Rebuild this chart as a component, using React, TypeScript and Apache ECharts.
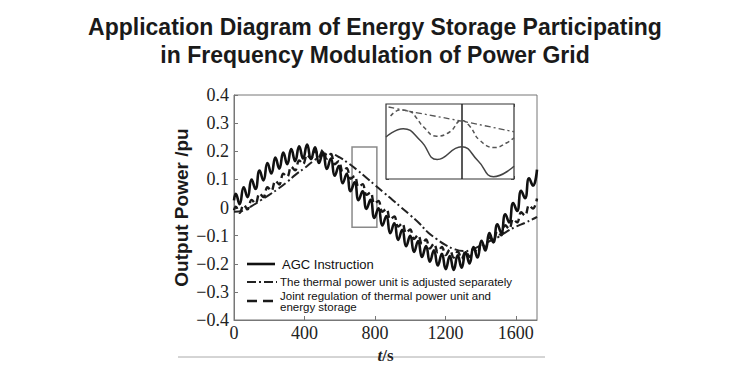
import React, { useEffect, useRef } from 'react';
import * as echarts from 'echarts';

// AGC instruction (solid): time (s) and output power (pu), peaks/troughs
const agcT = [0, 10, 32, 55, 77, 100, 122, 145, 167, 190, 212, 235, 257, 280, 302, 325, 347, 370, 392, 415, 437, 460, 482, 505, 527, 550, 572, 595, 617, 640, 662, 685, 707, 730, 752, 775, 797, 820, 842, 865, 887, 910, 932, 955, 977, 1000, 1022, 1045, 1067, 1090, 1112, 1135, 1157, 1180, 1202, 1225, 1247, 1270, 1292, 1315, 1337, 1360, 1382, 1405, 1427, 1450, 1472, 1495, 1517, 1540, 1562, 1585, 1607, 1630, 1652, 1675, 1697, 1720];
const agcV = [0.025, 0.049, 0.012, 0.072, 0.037, 0.099, 0.066, 0.131, 0.096, 0.158, 0.121, 0.178, 0.138, 0.195, 0.154, 0.208, 0.165, 0.218, 0.174, 0.224, 0.172, 0.214, 0.158, 0.196, 0.137, 0.174, 0.113, 0.147, 0.086, 0.12, 0.058, 0.09, 0.026, 0.058, -0.005, 0.027, -0.037, -0.003, -0.064, -0.03, -0.091, -0.056, -0.115, -0.079, -0.138, -0.101, -0.158, -0.119, -0.176, -0.137, -0.193, -0.152, -0.206, -0.165, -0.219, -0.173, -0.222, -0.17, -0.214, -0.159, -0.199, -0.141, -0.178, -0.118, -0.153, -0.091, -0.124, -0.06, -0.09, -0.024, -0.053, 0.016, -0.012, 0.059, 0.033, 0.104, 0.078, 0.135];

// Joint regulation of thermal power unit and energy storage (dashed), same time grid
const jointV = [-0.01, 0.003, -0.019, 0.009, -0.006, 0.027, 0.014, 0.05, 0.037, 0.072, 0.059, 0.095, 0.082, 0.12, 0.109, 0.145, 0.132, 0.167, 0.154, 0.188, 0.173, 0.203, 0.181, 0.205, 0.174, 0.19, 0.154, 0.165, 0.128, 0.14, 0.102, 0.112, 0.073, 0.083, 0.045, 0.053, 0.014, 0.023, -0.015, -0.005, -0.042, -0.032, -0.068, -0.056, -0.091, -0.078, -0.112, -0.098, -0.13, -0.114, -0.146, -0.128, -0.159, -0.14, -0.169, -0.15, -0.178, -0.156, -0.182, -0.156, -0.176, -0.146, -0.161, -0.128, -0.141, -0.106, -0.12, -0.085, -0.099, -0.063, -0.076, -0.041, -0.053, -0.017, -0.029, 0.008, -0.004, 0.032];

// Thermal power unit adjusted separately (dash-dot)
const thermalT = [0, 50, 100, 150, 200, 250, 300, 350, 400, 450, 500, 550, 600, 650, 700, 750, 800, 850, 900, 950, 1000, 1050, 1100, 1150, 1200, 1250, 1300, 1350, 1400, 1450, 1500, 1550, 1600, 1650, 1700, 1720];
const thermalV = [-0.015, -0.012, 0.005, 0.025, 0.045, 0.066, 0.09, 0.117, 0.14, 0.165, 0.185, 0.19, 0.178, 0.157, 0.133, 0.107, 0.08, 0.053, 0.027, 0.0, -0.027, -0.055, -0.088, -0.112, -0.133, -0.148, -0.155, -0.15, -0.135, -0.12, -0.105, -0.085, -0.068, -0.055, -0.04, -0.033];

// Zoom box (time range, power range)
const zoomBoxT = [670, 811];
const zoomBoxV = [0.215, -0.07];

// Inset (magnified detail, relative units 0-100)
const insetSolidX = [0, 13.5, 27, 40, 59, 72, 84, 100];
const insetSolidY = [56, 67, 51, 26, 43, 24, 3, 17];
const insetDashX = [3.6, 11, 18.8, 24, 29, 39.6, 50, 59, 65.6, 73, 85, 94, 100];
const insetDashY = [84, 92, 90, 81, 70, 57, 63, 78, 70, 52, 42, 48, 55];
const insetDotX = [2, 19, 59.6, 100];
const insetDotY = [96, 90, 77, 63];
const insetMarkX = 59;

const titleText = 'Application Diagram of Energy Storage Participating\nin Frequency Modulation of Power Grid';
const legendNames = [
  'AGC Instruction',
  'The thermal power unit is adjusted separately',
  'Joint regulation of thermal power unit and\nenergy storage',
];

const SANS = '"Liberation Sans", Arial, Helvetica, sans-serif';
const SERIF = '"Liberation Serif", "Times New Roman", serif';

const zip = (a: number[], b: number[]) => a.map((x, i) => [x, b[i]]);

export default function App() {
  const ref = useRef<HTMLDivElement>(null);
  useEffect(() => {
    const chart = echarts.init(ref.current!, undefined, { renderer: 'svg' });
    const fmtY = (v: number) => {
      const r = Math.round(v * 10) / 10;
      if (r === 0) return '0';
      return r < 0 ? '\u2212' + Math.abs(r).toFixed(1) : r.toFixed(1);
    };
    const fmtX = (v: number) => String(Math.round(v));
    chart.setOption({
      animation: false,
      backgroundColor: '#ffffff',
      title: {
        text: titleText,
        left: 'center',
        top: 8,
        textStyle: {
          fontFamily: SANS,
          fontSize: 23,
          fontWeight: 'bold',
          color: '#1a1a1a',
          lineHeight: 28,
        },
      },
      grid: [
        {
          left: 234, top: 95, right: 213, bottom: 62,
          show: true, borderColor: '#777', borderWidth: 1, backgroundColor: 'transparent',
        },
        {
          left: 386, top: 104, width: 128, height: 75,
          show: true, borderColor: '#333', borderWidth: 1.2, backgroundColor: '#ffffff', z: 5,
        },
      ],
      xAxis: [
        {
          type: 'value', gridIndex: 0, min: 0, max: 1720, interval: 400,
          axisLine: { show: true, onZero: false, lineStyle: { color: '#777' } },
          axisTick: { inside: true, length: 4, lineStyle: { color: '#777' } },
          splitLine: { show: false },
          axisLabel: {
            showMaxLabel: false, margin: 4, formatter: fmtX,
            fontFamily: SERIF, fontSize: 18, color: '#222',
          },
          name: '{i|t}/s', nameLocation: 'middle', nameGap: 23,
          nameTextStyle: {
            fontFamily: SERIF, fontSize: 17, fontWeight: 'bold', color: '#222',
            rich: { i: { fontFamily: SERIF, fontSize: 17, fontWeight: 'bold', fontStyle: 'italic', color: '#222' } },
          },
        },
        {
          type: 'value', gridIndex: 1, min: 0, max: 100, interval: 10,
          axisLine: { show: false, onZero: false }, axisLabel: { show: false }, splitLine: { show: false },
          axisTick: { inside: true, length: 3, lineStyle: { color: '#555' } },
        },
        {
          type: 'value', gridIndex: 1, min: 0, max: 100, interval: 10, position: 'top',
          axisLine: { show: false, onZero: false }, axisLabel: { show: false }, splitLine: { show: false },
          axisTick: { inside: true, length: 3, lineStyle: { color: '#555' } },
        },
      ],
      yAxis: [
        {
          type: 'value', gridIndex: 0, min: -0.4, max: 0.4, interval: 0.1,
          axisLine: { show: true, onZero: false, lineStyle: { color: '#777' } },
          axisTick: { inside: true, length: 4, lineStyle: { color: '#777' } },
          splitLine: { show: false },
          axisLabel: { formatter: fmtY, margin: 5, fontFamily: SERIF, fontSize: 18, color: '#222' },
          name: 'Output Power /pu', nameLocation: 'middle', nameGap: 43, nameRotate: 90,
          nameTextStyle: { fontFamily: SANS, fontSize: 19, fontWeight: 'bold', color: '#1a1a1a' },
        },
        {
          type: 'value', gridIndex: 1, min: 0, max: 100, interval: 12.5,
          axisLine: { show: false, onZero: false }, axisLabel: { show: false }, splitLine: { show: false },
          axisTick: { inside: true, length: 3, lineStyle: { color: '#555' } },
        },
        {
          type: 'value', gridIndex: 1, min: 0, max: 100, interval: 12.5, position: 'right',
          axisLine: { show: false, onZero: false }, axisLabel: { show: false }, splitLine: { show: false },
          axisTick: { inside: true, length: 3, lineStyle: { color: '#555' } },
        },
      ],
      series: [
        {
          name: 'Thermal separately', type: 'line', xAxisIndex: 0, yAxisIndex: 0,
          data: zip(thermalT, thermalV), smooth: 0.4, showSymbol: false, symbol: 'none',
          lineStyle: { color: '#222', width: 2, type: [9, 3, 2, 3] },
          z: 2,
        },
        {
          name: 'Joint regulation', type: 'line', xAxisIndex: 0, yAxisIndex: 0,
          data: zip(agcT, jointV), smooth: 0.4, showSymbol: false, symbol: 'none',
          lineStyle: { color: '#1a1a1a', width: 2.4, type: [7, 4] },
          z: 3,
        },
        {
          name: 'AGC Instruction', type: 'line', xAxisIndex: 0, yAxisIndex: 0,
          data: zip(agcT, agcV), smooth: 0.5, showSymbol: false, symbol: 'none',
          lineStyle: { color: '#111', width: 2.6 },
          z: 4,
          markArea: {
            silent: true,
            itemStyle: { color: 'rgba(0,0,0,0)', borderColor: '#8a8a8a', borderWidth: 1.5 },
            data: [[{ coord: [zoomBoxT[0], zoomBoxV[0]] }, { coord: [zoomBoxT[1], zoomBoxV[1]] }]],
          },
        },
        {
          type: 'line', xAxisIndex: 1, yAxisIndex: 1, z: 10,
          data: zip(insetDotX, insetDotY), smooth: 0.3, showSymbol: false, symbol: 'none',
          lineStyle: { color: '#555', width: 1.3, type: [6, 3, 2, 3] },
        },
        {
          type: 'line', xAxisIndex: 1, yAxisIndex: 1, z: 10,
          data: zip(insetDashX, insetDashY), smooth: 0.5, showSymbol: false, symbol: 'none',
          lineStyle: { color: '#555', width: 1.5, type: [4, 3] },
        },
        {
          type: 'line', xAxisIndex: 1, yAxisIndex: 1, z: 10,
          data: zip(insetSolidX, insetSolidY), smooth: 0.5, showSymbol: false, symbol: 'none',
          lineStyle: { color: '#444', width: 1.5 },
          markLine: {
            silent: true, symbol: 'none', label: { show: false },
            lineStyle: { color: '#222', width: 1.5, type: 'solid' },
            data: [{ xAxis: insetMarkX }],
          },
        },
      ],
      graphic: [
        { type: 'line', shape: { x1: 247, y1: 264, x2: 275, y2: 264 }, style: { stroke: '#111', lineWidth: 2.6 } },
        { type: 'text', x: 282, y: 264, style: { text: legendNames[0], fontFamily: SANS, fontSize: 13, fill: '#111', verticalAlign: 'middle' } },
        { type: 'line', shape: { x1: 247, y1: 282, x2: 277, y2: 282 }, style: { stroke: '#222', lineWidth: 2, lineDash: [9, 3, 2, 3] } },
        { type: 'text', x: 280, y: 282, style: { text: legendNames[1], fontFamily: SANS, fontSize: 11.5, fill: '#111', verticalAlign: 'middle' } },
        { type: 'line', shape: { x1: 247, y1: 301, x2: 273, y2: 301 }, style: { stroke: '#1a1a1a', lineWidth: 2.6, lineDash: [10, 6] } },
        { type: 'text', x: 280, y: 291, style: { text: legendNames[2], fontFamily: SANS, fontSize: 11.5, lineHeight: 10.5, fill: '#111', verticalAlign: 'top' } },
        { type: 'line', shape: { x1: 178, y1: 357, x2: 545, y2: 357 }, style: { stroke: '#aaa', lineWidth: 1 } },
      ],
    });
    return () => chart.dispose();
  }, []);
  return <div ref={ref} style={{ position: 'absolute', left: 0, top: 0, width: 750, height: 382 }} />;
}
